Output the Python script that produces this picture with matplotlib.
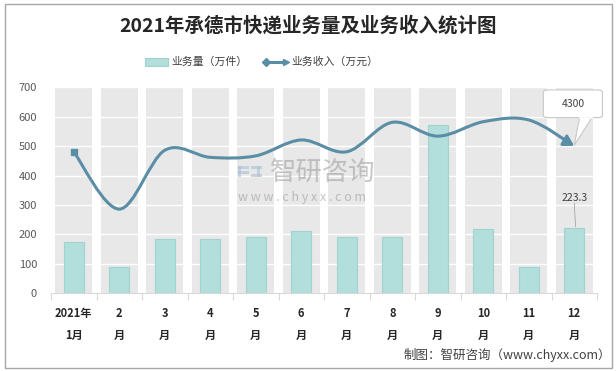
import matplotlib
matplotlib.use('Agg')
from matplotlib import pyplot as plt
from matplotlib.path import Path
from matplotlib.patches import FancyArrowPatch, Rectangle, Polygon, FancyBboxPatch
from matplotlib.lines import Line2D
import numpy as np

plt.rcParams['font.family'] = ['Noto Sans CJK SC', 'DejaVu Sans']

months = ['2021年\n1月', '2\n月', '3\n月', '4\n月', '5\n月', '6\n月',
          '7\n月', '8\n月', '9\n月', '10\n月', '11\n月', '12\n月']
volume = [175, 90, 183, 183, 192, 213, 192, 192, 571, 217, 90, 223.3]
income = [481, 286, 486, 462, 467, 521, 481, 581, 534, 583, 589, 501]
yticks = [0, 100, 200, 300, 400, 500, 600, 700]

bar_color = '#b2dedb'
bar_edge = '#9fd4d0'
line_color = '#5a8da6'
band_color = '#e8e8e8'


def smooth_path(xs, ys):
    # Catmull-Rom style bezier segments (like Excel smoothed line)
    pts = np.column_stack([xs, ys]).astype(float)
    ext = np.vstack([pts[0], pts, pts[-1]])
    verts = [pts[0]]
    codes = [Path.MOVETO]
    for i in range(len(pts) - 1):
        p0, p1, p2, p3 = ext[i], ext[i + 1], ext[i + 2], ext[i + 3]
        c1 = p1 + (p2 - p0) / 6.0
        c2 = p2 - (p3 - p1) / 6.0
        verts += [c1, c2, p2]
        codes += [Path.CURVE4] * 3
    return Path(verts, codes)


fig = plt.figure(figsize=(6.16, 3.71), dpi=100)
W, H = 616, 371
ax = fig.add_axes([51 / W, 1 - 293.3 / H, 546 / W, 206 / H])

x = np.arange(len(months))
ax.set_xlim(-0.5, len(months) - 0.5)
ax.set_ylim(0, 700)

# gray column bands and white grid
for xi in x:
    ax.axvspan(xi - 0.405, xi + 0.405, ymin=0, ymax=1, color=band_color, zorder=0, lw=0)
for yv in yticks[1:]:
    ax.axhline(yv, color='white', lw=1.0, zorder=1)

ax.bar(x, volume, width=0.44, color=bar_color, edgecolor=bar_edge, lw=0.8, zorder=2)

path = smooth_path(x, income)
curve = FancyArrowPatch(path=path, arrowstyle='-|>,head_length=0.6,head_width=0.35',
                        mutation_scale=10, color=line_color, lw=2.2, zorder=4,
                        joinstyle='round', capstyle='round')
ax.add_patch(curve)
ax.plot([x[0]], [income[0]], marker='s', markersize=5, color=line_color, zorder=5)

# axis styling
for s in ['left', 'right', 'top']:
    ax.spines[s].set_visible(False)
ax.spines['bottom'].set_color('#d9d9d9')
ax.set_yticks(yticks)
ax.tick_params(axis='y', length=0, labelsize=8, labelcolor='#595959', pad=10)
ax.set_xticks(x)
ax.set_xticklabels(months, fontsize=8, fontweight='bold', color='#262626', linespacing=1.9)
ax.tick_params(axis='x', which='major', length=0, pad=10)
ax.set_xticks(np.arange(-0.5, len(months)), minor=True)
ax.tick_params(axis='x', which='minor', length=5, color='#d9d9d9', width=0.8)

# callout for last point
bx, by = x[-1], income[-1]
ax.add_patch(Polygon([(bx + 0.12, 600), (bx + 0.4, 600), (bx, by + 2)], closed=True,
                     facecolor='white', edgecolor='#c8c8c8', lw=0.8, zorder=6, clip_on=False))
ax.add_patch(FancyBboxPatch((bx - 0.68, 597), 1.3, 94,
                            boxstyle='round,pad=0,rounding_size=0.12', mutation_aspect=60,
                            facecolor='white', edgecolor='#c8c8c8', lw=0.8, zorder=7, clip_on=False))
ax.plot([bx + 0.12, bx + 0.4], [597, 597], color='white', lw=1.2, zorder=8, clip_on=False)
ax.text(bx - 0.03, 643, '4300', ha='center', va='center', fontsize=7.5, color='#404040', zorder=9)

# data label for last bar
ax.text(x[-1], 323, '223.3', ha='center', va='center', fontsize=7.5, color='#404040', zorder=6)
ax.plot([x[-1], x[-1] + 0.03], [306, volume[-1] + 3], color='#a6a6a6', lw=0.6, zorder=6)

# watermark
for rx, ry, rw, rh in [(238, 166, 11, 3), (238, 171, 11, 2.5), (238, 166, 3, 11),
                       (251, 166, 11, 3), (251, 174, 11, 3), (257, 166, 3, 11)]:
    ax.add_patch(Rectangle(((rx - 51) / 546, (293.3 - ry - rh) / 206), rw / 546, rh / 206,
                           transform=ax.transAxes, facecolor='#aabfd4', alpha=0.6, lw=0, zorder=3))
ax.text((270 - 51) / 546, (293.3 - 172) / 206, '智研咨询', transform=ax.transAxes, ha='left',
        va='center', fontsize=19, color='#9a9a9a', alpha=0.55, zorder=3)
ax.text((238 - 51) / 546, (293.3 - 198) / 206, 'w w w . c h y x x . c o m', transform=ax.transAxes,
        ha='left', va='center', fontsize=9, color='#9a9a9a', alpha=0.6, zorder=3)

# title
fig.text(308 / W, 1 - 26 / H, '2021年承德市快递业务量及业务收入统计图', ha='center', va='center',
         fontsize=14, fontweight='bold', color='#262626')

# legend (drawn by hand)
fig.patches.append(Rectangle((145 / W, 1 - 66 / H), 23 / W, 8 / H, transform=fig.transFigure,
                             facecolor=bar_color, edgecolor=bar_edge, lw=0.8))
fig.text(171 / W, 1 - 62 / H, '业务量（万件）', ha='left', va='center', fontsize=7.8, color='#404040')
fig.lines.append(Line2D([266 / W, 284 / W], [1 - 62 / H, 1 - 62 / H], transform=fig.transFigure,
                        color=line_color, lw=2.2))
fig.lines.append(Line2D([266 / W], [1 - 62 / H], transform=fig.transFigure, marker='D',
                        markersize=4.5, color=line_color))
fig.lines.append(Line2D([286 / W], [1 - 62 / H], transform=fig.transFigure, marker='>',
                        markersize=5, color=line_color))
fig.text(291 / W, 1 - 62 / H, '业务收入（万元）', ha='left', va='center', fontsize=7.8, color='#404040')

# source
fig.text(611 / W, 1 - 355 / H, '制图：智研咨询（www.chyxx.com）', ha='right', va='center',
         fontsize=9, color='#404040')

# outer border
fig.patches.append(Rectangle((5 / W, 3 / H), 607 / W, 364 / H, transform=fig.transFigure,
                             fill=False, edgecolor='#a6a6a6', lw=1.0))

fig.savefig('out.png', dpi=100)
